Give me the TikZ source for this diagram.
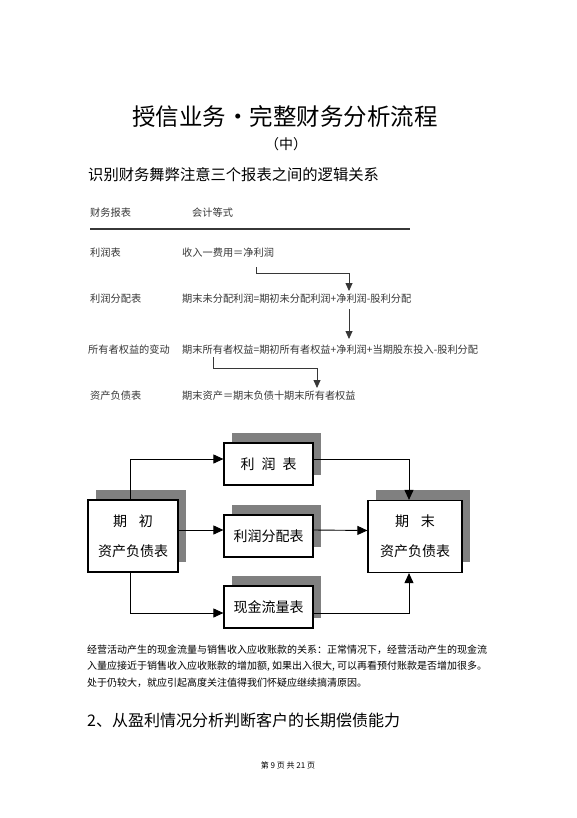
\documentclass[tikz,border=0pt]{standalone}
\usepackage{fontspec}
\setmainfont{Noto Sans CJK SC}
\usepackage{xcolor}
\definecolor{shadegray}{RGB}{128,128,128}
\definecolor{scantext}{RGB}{55,55,55}
\usetikzlibrary{arrows.meta,shadows}

\begin{document}
\begin{tikzpicture}[x=1pt,y=-1pt,
  % --- page text -------------------------------------------------------
  pagetitle/.style={font=\fontsize{23.5}{26}\selectfont, inner sep=0pt},
  subhead/.style={font=\fontsize{15.3}{18}\selectfont, anchor=west, inner sep=0pt},
  bodyline/.style={font=\fontsize{10}{12}\selectfont, anchor=west, inner sep=0pt},
  tabtext/.style={font=\fontsize{10.2}{12}\selectfont, text=scantext,
                  anchor=west, inner sep=0pt},
  tiplink/.style={scantext, line width=0.8pt,
                  -{Triangle[length=8pt,width=7pt]}},
  % --- flow chart --------------------------------------------------------
  sheet/.style={draw=black, fill=white, line width=1.2pt,
                font=\fontsize{14}{30}\selectfont,
                minimum width=89pt, minimum height=42pt, align=center,
                drop shadow={shadow xshift=8pt, shadow yshift=10.5pt,
                             opacity=1, fill=shadegray, draw=none}},
  bigsheet/.style={sheet, minimum width=92pt, minimum height=72pt},
  link/.style={line width=0.9pt, -{Triangle[length=10pt,width=9pt]}},
  % ---------------------------------------------------------------------
]
  \useasboundingbox[fill=white] (0,0) rectangle (577,818);

  % Headings
  \node[pagetitle] (title) at (285,117) {授信业务•完整财务分析流程};
  \node[font=\fontsize{14}{16}\selectfont, inner sep=0pt] (part) at (286,144) {（中）};
  \node[subhead] (sub) at (88,175) {识别财务舞弊注意三个报表之间的逻辑关系};

  % Table of statements and equations
  \node[tabtext] (h1) at (90,213) {财务报表};
  \node[tabtext] (h2) at (192,213) {会计等式};
  \coordinate (rl) at (90,229);
  \coordinate (rr) at (410,229);
  \draw[scantext, line width=1.2pt] (rl) -- (rr);

  \node[tabtext] (s1) at (90,253)  {利润表};
  \node[tabtext] (e1) at (182,253) {收入一费用＝净利润};
  \node[tabtext] (s2) at (90,299)  {利润分配表};
  \node[tabtext] (e2) at (182,299) {期末未分配利润=期初未分配利润+净利润-股利分配};
  \node[tabtext] (s3) at (88,350)  {所有者权益的变动};
  \node[tabtext] (e3) at (182,350) {期末所有者权益=期初所有者权益+净利润+当期股东投入-股利分配};
  \node[tabtext] (s4) at (90,396)  {资产负债表};
  \node[tabtext] (e4) at (182,396) {期末资产＝期末负债十期末所有者权益};

  % Links between equations
  \coordinate (np1) at (256,267);
  \coordinate (np2) at (349,291);
  \coordinate (np2b) at (349,309);
  \coordinate (np3) at (349,339);
  \coordinate (oe3) at (213,357);
  \coordinate (oe4) at (317,388);
  \draw[tiplink] (np1) -- ++(0,6) -| (np2);
  \draw[tiplink] (np2b) -- (np3);
  \draw[tiplink] (oe3) -- ++(0,11) -| (oe4);

  % Flow chart
  \node[sheet] (inc)  at (268.5,464) {利\hspace{0.5em}润\hspace{0.5em}表};
  \node[sheet] (dist) at (268.5,536) {利润分配表};
  \node[sheet] (cash) at (268.5,607) {现金流量表};
  \node[bigsheet, minimum width=90pt] (open)  at (133,536) {期\hspace{0.85em}初\\资产负债表};
  \node[bigsheet, minimum width=94pt] (close) at (415,536.5) {期\hspace{0.85em}末\\资产负债表};

  \draw[link] ([xshift=-3pt]open.north) |- ([yshift=5pt]inc.west);
  \draw[link] ([yshift=6pt]open.east) -- ([yshift=6pt]dist.west);
  \draw[link] ([xshift=-3pt]open.south) |- ([yshift=-6pt]cash.west);
  \draw[link] ([yshift=5pt]inc.east) -| ([xshift=-6pt]close.north);
  \draw[link] ([yshift=6pt]dist.east) -- ([yshift=6pt]close.west);
  \draw[link] ([yshift=-6pt]cash.east) -| ([xshift=-6pt]close.south);

  % Notes
  \node[bodyline] (p1) at (87,650)
    {经营活动产生的现金流量与销售收入应收账款的关系：正常情况下，经营活动产生的现金流};
  \node[bodyline] (p2) at (87,666)
    {入量应接近于销售收入应收账款的增加额, 如果出入很大, 可以再看预付账款是否增加很多。};
  \node[bodyline] (p3) at (87,683)
    {处于仍较大，就应引起高度关注值得我们怀疑应继续搞清原因。};
  \node[bodyline, font=\fontsize{16}{18}\selectfont] (sec) at (87,720)
    {2、从盈利情况分析判断客户的长期偿债能力};
  \node[font=\fontsize{8}{10}\selectfont, inner sep=0pt] (foot) at (288,765)
    {第 9 页 共 21 页};
\end{tikzpicture}
\end{document}
